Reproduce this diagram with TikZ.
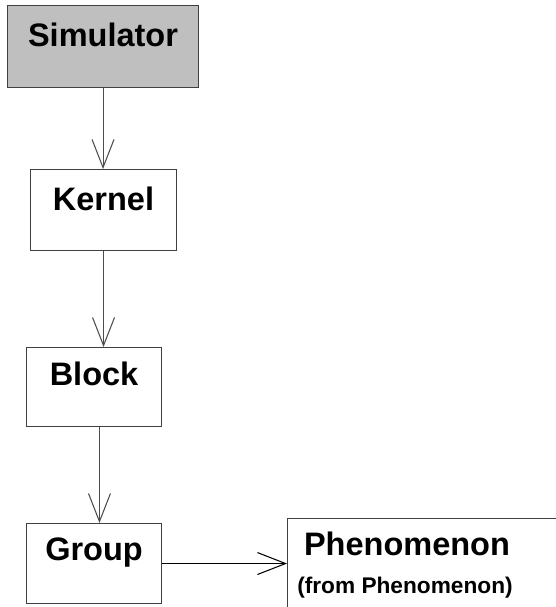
\documentclass[tikz,border=0pt]{standalone}
\usepackage{fontspec}
\setmainfont{Liberation Sans}
\usetikzlibrary{arrows.meta}
\begin{document}
\begin{tikzpicture}[font=\bfseries]
    \tikzset{box/.style={draw=black!75, line width=0.6pt, rectangle, inner sep=0pt, anchor=north west, font=\fontsize{18.5}{22}\bfseries\selectfont},
      link/.style={draw=black!70, line width=0.6pt, -{Straight Barb[length=16pt, width=12.5pt]}}}
    \useasboundingbox (0,0) rectangle (11.1,-12.14);
    % Simulator
    \node[box, fill=black!25, minimum width=3.82cm, text height=0.82cm, text depth=0.82cm] (sim) at (0.14,-0.10) {Simulator};
    % Kernel
    \node[box, minimum width=2.92cm, text height=0.82cm, text depth=0.80cm] (kernel) at (0.60,-3.38) {Kernel};
    % Block
    \node[box, minimum width=2.70cm, text height=0.76cm, text depth=0.82cm] (block) at (0.52,-6.94) {Block};
    % Group
    \node[box, minimum width=2.70cm, text height=0.74cm, text depth=0.86cm] (group) at (0.52,-10.46) {Group};
    % Phenomenon, runs off the right and bottom edges
    \node[box, minimum width=6cm, minimum height=2.2cm] (phen) at (5.74,-10.36) {};
    \node[anchor=base, font=\fontsize{18.5}{22}\bfseries\selectfont] (phentitle) at (8.14,-11.10) {Phenomenon};
    \node[anchor=base, font=\fontsize{12.9}{15}\bfseries\selectfont] (phenfrom) at (8.10,-11.86) {(from Phenomenon)};
    % links
    \draw[link] (sim.south) -- (sim.south |- kernel.north);
    \draw[link] (kernel.south) -- (kernel.south |- block.north);
    \draw[link] ([xshift=3.1pt]block.south) -- ([xshift=3.1pt]group.north);
    \draw[link, draw=black] (group.east) -- (group.east -| phen.west);
  \end{tikzpicture}
\end{document}
